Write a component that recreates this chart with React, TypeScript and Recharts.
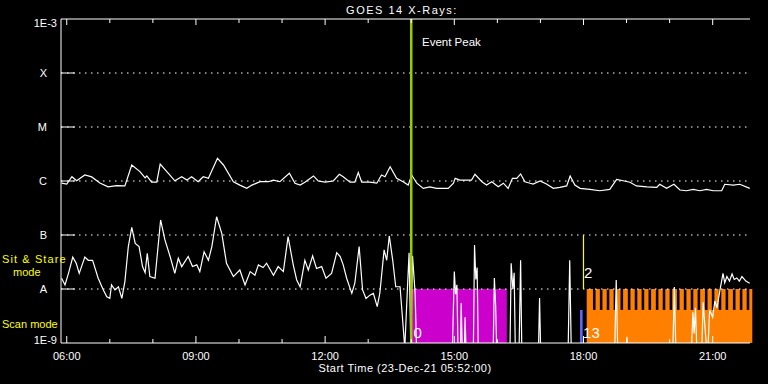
import React from 'react'
import {
  ComposedChart,
  Line,
  XAxis,
  YAxis,
  ReferenceLine,
  ReferenceArea,
  ReferenceDot,
} from 'recharts'

const FONT = "'Liberation Sans', Arial, sans-serif"

// times are decimal hours UT on 23-Dec-21, flux in W/m^2
const longTimes = [
  5.88, 6.0, 6.12, 6.23, 6.42, 6.58, 6.77, 6.96, 7.16, 7.35, 7.51, 7.7, 7.82, 7.86, 7.97, 8.09,
  8.17, 8.36, 8.51, 8.67, 8.79, 8.9, 9.05, 9.17, 9.29, 9.5, 9.64, 9.87, 10.02, 10.18, 10.3, 10.49,
  10.68, 10.8, 10.95, 11.17, 11.3, 11.42, 11.53, 11.73, 11.84, 12.0, 12.19, 12.33, 12.42, 12.58,
  12.69, 12.77, 12.85, 13.04, 13.2, 13.31, 13.39, 13.51, 13.66, 13.81, 13.93, 14.01, 14.13, 14.28,
  14.43, 14.59, 14.86, 14.98, 15.02, 15.13, 15.4, 15.48, 15.64, 15.75, 15.87, 16.02, 16.14, 16.25,
  16.35, 16.45, 16.54, 16.64, 16.76, 16.83, 16.99, 17.14, 17.3, 17.45, 17.61, 17.69, 17.8, 17.92,
  18.15, 18.38, 18.61, 18.77, 18.92, 19.08, 19.23, 19.47, 19.7, 19.77, 19.93, 20.1, 20.24, 20.39,
  20.55, 20.7, 20.86, 21.01, 21.21, 21.28, 21.48, 21.63, 21.86,
]
const longFlux = [
  9.1e-7, 8.8e-7, 1.2e-6, 1.01e-6, 1.29e-6, 1.19e-6, 9.2e-7, 7.8e-7, 8.2e-7, 8.1e-7, 1.98e-6,
  1.49e-6, 1.14e-6, 1.24e-6, 9.5e-7, 9.5e-7, 2.06e-6, 1.39e-6, 1.01e-6, 1.2e-6, 1.04e-6, 1.2e-6,
  9.7e-7, 1.2e-6, 1.12e-6, 2.63e-6, 1.98e-6, 9.7e-7, 8.4e-7, 7.3e-7, 8.4e-7, 9.7e-7, 9.7e-7,
  1.04e-6, 9.7e-7, 1.39e-6, 9.1e-7, 8.4e-7, 9.5e-7, 1.24e-6, 1.0e-6, 9.5e-7, 1.0e-6, 1.33e-6,
  1.2e-6, 9.5e-7, 9.5e-7, 1.43e-6, 9.5e-7, 9.5e-7, 9.1e-7, 1.29e-6, 1.2e-6, 1.84e-6, 1.12e-6,
  9.7e-7, 8.4e-7, 1.29e-6, 9.1e-7, 7.3e-7, 7.8e-7, 7.3e-7, 7.3e-7, 9.1e-7, 1.12e-6, 1.04e-6,
  1.04e-6, 1.33e-6, 9.7e-7, 8.4e-7, 9.7e-7, 7.8e-7, 9.1e-7, 7.3e-7, 1.12e-6, 1.12e-6, 1.35e-6,
  9.7e-7, 9.1e-7, 8.8e-7, 1.0e-6, 8.8e-7, 7.3e-7, 7.6e-7, 8.1e-7, 1.24e-6, 8.4e-7, 7.3e-7,
  7.0e-7, 6.6e-7, 7.0e-7, 1.07e-6, 1.01e-6, 9.5e-7, 8.1e-7, 7.8e-7, 7.6e-7, 8.7e-7, 7.3e-7,
  8.7e-7, 6.8e-7, 6.6e-7, 7.0e-7, 6.6e-7, 7.0e-7, 6.6e-7, 6.6e-7, 8.7e-7, 8.4e-7, 8.7e-7, 7.3e-7,
]

const shortTimes = [
  5.88, 5.96, 6.04, 6.14, 6.22, 6.29, 6.42, 6.5, 6.6, 6.73, 6.85, 6.93, 7.0, 7.04, 7.12, 7.2,
  7.28, 7.35, 7.43, 7.51, 7.59, 7.68, 7.76, 7.82, 7.87, 7.93, 8.05, 8.18, 8.28, 8.4, 8.51, 8.59,
  8.67, 8.82, 8.92, 9.02, 9.09, 9.19, 9.29, 9.37, 9.48, 9.6, 9.71, 9.87, 10.02, 10.14, 10.26,
  10.37, 10.45, 10.56, 10.64, 10.8, 10.91, 11.03, 11.14, 11.26, 11.34, 11.42, 11.53, 11.61, 11.71,
  11.8, 11.92, 12.02, 12.15, 12.27, 12.35, 12.42, 12.5, 12.62, 12.69, 12.79, 12.87, 12.95, 13.04,
  13.12, 13.21, 13.27, 13.37, 13.43, 13.49, 13.57, 13.64, 13.74, 13.8, 13.85, 13.91, 13.95, 13.99,
  14.03, 14.09, 14.13, 14.95, 15.0, 15.03, 15.06, 15.09, 15.14, 15.16, 15.19, 15.23, 15.25, 15.28,
  15.44, 15.47, 15.5, 15.53, 15.56, 15.9, 15.93, 15.96, 15.99, 16.29, 16.32, 16.36, 16.39, 16.42,
  16.5, 16.54, 16.57, 16.95, 16.98, 17.01, 17.64, 17.68, 17.72, 18.72, 18.76, 18.8, 18.99, 19.01,
  19.03, 20.07, 20.11, 20.15, 20.5, 20.54, 20.57, 20.6, 20.64, 20.74, 20.78, 20.82, 20.88, 20.93,
  21.0, 21.05, 21.1, 21.17, 21.24, 21.28, 21.33, 21.39, 21.45, 21.5, 21.56, 21.62, 21.68, 21.77,
  21.86,
]
const shortFlux = [
  1.58e-8, 1.19e-8, 1.95e-8, 3.9e-8, 3.0e-8, 1.95e-8, 3.9e-8, 3.4e-8, 3.4e-8, 1.58e-8, 9.6e-9,
  7.2e-9, 6.7e-9, 1.19e-8, 9.6e-9, 1.1e-8, 6.7e-9, 1.37e-8, 6.1e-8, 1.39e-7, 7.0e-8, 6.1e-8,
  2.6e-8, 2.0e-8, 4.6e-8, 1.7e-8, 1.58e-8, 1.9e-7, 8.1e-8, 4.0e-8, 1.95e-8, 3.7e-8, 2.6e-8,
  4.0e-8, 2.6e-8, 2.8e-8, 2.1e-8, 4.9e-8, 3.4e-8, 6.1e-8, 2.18e-7, 1.07e-7, 3.0e-8, 1.7e-8,
  2.25e-8, 1.19e-8, 2.1e-8, 1.8e-8, 2.8e-8, 2.5e-8, 3.0e-8, 1.8e-8, 2.6e-8, 2.1e-8, 9.3e-8,
  2.8e-8, 1.47e-8, 1.1e-8, 3.4e-8, 2.25e-8, 4.1e-8, 2.4e-8, 2.6e-8, 1.58e-8, 1.95e-8, 4.7e-8,
  4.0e-8, 2.8e-8, 1.58e-8, 8.3e-9, 1.28e-8, 6.1e-8, 9.6e-9, 6.7e-9, 7.7e-9, 8.3e-9, 4.7e-9,
  8.3e-9, 5.3e-8, 3.4e-8, 9.6e-8, 3.4e-8, 1.1e-8, 1.1e-8, 2.7e-9, 8e-10, 9.6e-9, 4.7e-8, 8e-10,
  4.1e-8, 8.3e-9, 5e-10, 5e-10, 2.1e-8, 8e-9, 1.2e-8, 5e-10, 5e-10, 5.5e-9, 5e-10, 5e-10, 3.0e-9,
  5e-10, 5e-10, 6.5e-8, 1.5e-8, 2.5e-8, 5e-10, 5e-10, 1.6e-8, 5e-9, 5e-10, 5e-10, 3.0e-8, 1.0e-8,
  2.0e-8, 5e-10, 5e-10, 3.4e-8, 5e-10, 5e-10, 6.8e-9, 5e-10, 5e-10, 3.4e-8, 5e-10, 5e-10,
  1.47e-8, 5e-10, 5e-10, 1.3e-9, 5e-10, 5e-10, 1.09e-8, 5e-10, 5e-10, 3.7e-9, 1.5e-9, 4.5e-9,
  5e-10, 5e-10, 5.7e-9, 2e-9, 5e-10, 4.1e-9, 3.0e-9, 6.0e-9, 4.5e-9, 9.6e-9, 1.95e-8, 1.3e-8,
  1.7e-8, 1.4e-8, 1.9e-8, 1.5e-8, 1.6e-8, 1.4e-8, 1.7e-8, 1.4e-8, 1.28e-8,
]

const levelValues = [1e-3, 1e-4, 1e-5, 1e-6, 1e-7, 1e-8, 1e-9]
const levelNames = ['1E-3', 'X', 'M', 'C', 'B', 'A', '1E-9']
const gridLevels = [1e-4, 1e-5, 1e-6, 1e-7, 1e-8]

const hourTicks = [6, 7, 8, 9, 10, 11, 12, 13, 14, 15, 16, 17, 18, 19, 20, 21]
const labelHours = [6, 9, 12, 15, 18, 21]
const labelTexts = ['06:00', '09:00', '12:00', '15:00', '18:00', '21:00']

const timeDomain = [5.8667, 21.8667]
const fluxDomain = [1e-9, 1e-3]

const eventPeak = 14.0
const sitStareSpan = [14.02, 16.22]
const sitStareTop = 1e-8
const blueSpan = [17.92, 17.98]
const blueTop = 4.1e-9
const markerTime = 18.0
const markerSpan = [1e-8, 1e-7]
const scanSpan = [18.075, 21.92]
const scanTop = 1e-8
const stripeTimes = [
  18.25, 18.41, 18.57, 18.73, 18.89, 19.06, 19.22, 19.38, 19.54, 19.71, 19.87, 20.03, 20.2,
  20.36, 20.52, 20.68, 20.85, 21.01, 21.17, 21.33, 21.5, 21.66, 21.82,
]
const stripeBottom = 4.1e-9

const annotations = [
  { t: 14.25, v: 3.7e-4, text: 'Event Peak', size: 11.5 },
  { t: 14.05, v: 1.53e-9, text: '0', size: 15 },
  { t: 18.01, v: 2.0e-8, text: '2', size: 15 },
  { t: 17.99, v: 1.53e-9, text: '13', size: 15 },
]

const longData = longTimes.map((t, i) => ({ t, v: longFlux[i] }))
const shortData = shortTimes.map((t, i) => ({ t, v: shortFlux[i] }))

const LeftTick = ({ x, y, payload }: any) => {
  const i = levelValues.indexOf(payload.value)
  const inner = i > 0 && i < levelValues.length - 1
  const dy = i === 0 ? 4 : inner ? 0 : -3
  return (
    <g>
      {inner && <line x1={x} x2={x + 14} y1={y} y2={y} stroke="#fff" />}
      <text
        x={inner ? x - 14 : x - 4}
        y={y + dy + 4}
        textAnchor="end"
        fill="#fff"
        fontSize={11}
        fontFamily={FONT}
      >
        {levelNames[i]}
      </text>
    </g>
  )
}

const RightTick = ({ x, y, payload }: any) => {
  const i = levelValues.indexOf(payload.value)
  const inner = i > 0 && i < levelValues.length - 1
  return inner ? <line x1={x - 14} x2={x} y1={y} y2={y} stroke="#fff" /> : <g />
}

const BottomTick = ({ x, y, payload }: any) => {
  const j = labelHours.indexOf(payload.value)
  const major = j >= 0
  return (
    <g>
      <line x1={x} x2={x} y1={y} y2={y - (major ? 7 : 4)} stroke="#fff" />
      {major && (
        <text x={x} y={y + 16.5} textAnchor="middle" fill="#fff" fontSize={11} fontFamily={FONT}>
          {labelTexts[j]}
        </text>
      )}
    </g>
  )
}

const TopTick = ({ x, y, payload }: any) => {
  const major = labelHours.includes(payload.value)
  return <line x1={x} x2={x} y1={y} y2={y + (major ? 6 : 4)} stroke="#fff" />
}

export default function App() {
  return (
    <div
      style={{
        position: 'absolute',
        left: 0,
        top: 0,
        width: 768,
        height: 384,
        background: '#000',
        fontFamily: FONT,
      }}
    >
      <ComposedChart width={768} height={384} margin={{ top: 0, right: 18, bottom: 11, left: 9 }}>
        <XAxis
          dataKey="t"
          type="number"
          domain={timeDomain}
          allowDataOverflow
          ticks={hourTicks}
          interval={0}
          height={30}
          tickSize={0}
          tickMargin={0}
          tick={<BottomTick />}
          axisLine={{ stroke: '#fff' }}
          tickLine={false}
        />
        <XAxis
          xAxisId="top"
          orientation="top"
          dataKey="t"
          type="number"
          domain={timeDomain}
          allowDataOverflow
          ticks={hourTicks}
          interval={0}
          height={19}
          tickSize={0}
          tickMargin={0}
          tick={<TopTick />}
          axisLine={{ stroke: '#fff' }}
          tickLine={false}
        />
        <YAxis
          type="number"
          scale="log"
          domain={fluxDomain}
          allowDataOverflow
          ticks={levelValues}
          interval={0}
          width={52}
          tickSize={0}
          tickMargin={0}
          tick={<LeftTick />}
          axisLine={{ stroke: '#fff' }}
          tickLine={false}
        />
        <YAxis
          yAxisId="right"
          orientation="right"
          type="number"
          scale="log"
          domain={fluxDomain}
          allowDataOverflow
          ticks={levelValues}
          interval={0}
          width={0}
          tickSize={0}
          tickMargin={0}
          tick={<RightTick />}
          axisLine={{ stroke: '#fff' }}
          tickLine={false}
        />

        {gridLevels.map((lv) => (
          <ReferenceLine key={lv} y={lv} stroke="#fff" strokeDasharray="1.5 4.5" strokeWidth={1.2} />
        ))}

        <ReferenceArea
          x1={sitStareSpan[0]}
          x2={sitStareSpan[1]}
          y1={fluxDomain[0]}
          y2={sitStareTop}
          fill="#cc00cc"
          fillOpacity={1}
          stroke="none"
        />
        <ReferenceArea
          x1={scanSpan[0]}
          x2={scanSpan[1]}
          y1={fluxDomain[0]}
          y2={scanTop}
          fill="#ff8000"
          fillOpacity={1}
          stroke="none"
          ifOverflow="visible"
        />
        {stripeTimes.map((s) => (
          <ReferenceArea
            key={s}
            x1={s - 0.03}
            x2={s + 0.03}
            y1={stripeBottom}
            y2={scanTop}
            fill="#000"
            fillOpacity={1}
            stroke="none"
          />
        ))}
        <ReferenceArea
          x1={blueSpan[0]}
          x2={blueSpan[1]}
          y1={fluxDomain[0]}
          y2={blueTop}
          fill="#6464ff"
          fillOpacity={1}
          stroke="none"
        />
        <ReferenceLine
          segment={[
            { x: markerTime, y: markerSpan[0] },
            { x: markerTime, y: markerSpan[1] },
          ]}
          stroke="#ffff00"
          strokeWidth={1.2}
        />

        <Line
          data={longData}
          dataKey="v"
          type="linear"
          stroke="#fff"
          strokeWidth={1.2}
          dot={false}
          isAnimationActive={false}
        />
        <Line
          data={shortData}
          dataKey="v"
          type="linear"
          stroke="#fff"
          strokeWidth={1.2}
          dot={false}
          isAnimationActive={false}
        />

        <ReferenceLine x={eventPeak} stroke="#99cc00" strokeWidth={2.5} />

        {annotations.map((a) => (
          <ReferenceDot
            key={a.text}
            x={a.t}
            y={a.v}
            r={0}
            fill="none"
            stroke="none"
            label={{
              value: a.text,
              position: 'right',
              offset: 0,
              fill: '#fff',
              fontSize: a.size,
              fontFamily: FONT,
            }}
          />
        ))}
      </ComposedChart>

      <svg
        width={768}
        height={384}
        style={{ position: 'absolute', left: 0, top: 0, pointerEvents: 'none' }}
      >
        <text x={402} y={14} textAnchor="middle" fill="#fff" fontSize={11} letterSpacing={1.5}>
          GOES 14 X-Rays:
        </text>
        <text x={405} y={372} textAnchor="middle" fill="#fff" fontSize={11} letterSpacing={0.5}>
          Start Time (23-Dec-21 05:52:00)
        </text>
        <text x={2} y={263} fill="#ffff00" fontSize={11} letterSpacing={1.1}>
          Sit &amp; Stare
        </text>
        <text x={13} y={275.5} fill="#ffff00" fontSize={11}>
          mode
        </text>
        <text x={2} y={327.5} fill="#ffff00" fontSize={11}>
          Scan mode
        </text>
      </svg>
    </div>
  )
}
